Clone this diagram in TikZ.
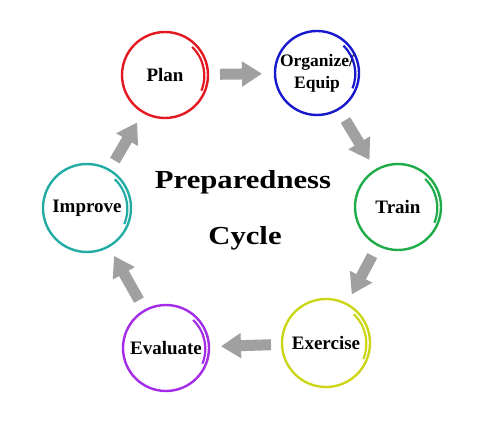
\documentclass[tikz,border=0pt]{standalone}
\usepackage{fontspec}
\setmainfont{Liberation Serif}
\newfontfamily\titlefont[FakeStretch=1.18]{Liberation Serif}
\usepackage{tikz}
\usetikzlibrary{positioning, arrows.meta}
\definecolor{planred}{RGB}{228,24,32}
\definecolor{orgblue}{RGB}{24,24,204}
\definecolor{traingreen}{RGB}{30,172,72}
\definecolor{exyellow}{RGB}{204,214,24}
\definecolor{evalpurple}{RGB}{164,44,232}
\definecolor{impteal}{RGB}{34,172,164}
\definecolor{arrowgray}{RGB}{160,160,160}
\tikzstyle{stage}=[circle, draw, line width=2.4pt, minimum size=86pt, inner sep=0pt, align=center, font=\fontsize{19}{22}\selectfont\bfseries]
\tikzstyle{brush}=[line width=2.2pt]
\tikzstyle{flow}=[draw=arrowgray, line width=11pt, -{Triangle[length=20pt,width=24pt]}, shorten <=55pt, shorten >=55pt]

\begin{document}
\begin{tikzpicture}[x=1pt, y=1pt]
                    \useasboundingbox (0,0) rectangle (500,426);
                    \node [stage, draw=planred] (plan) at (165,351) {Plan};
                    \node [stage, draw=orgblue, minimum size=84pt, font=\fontsize{17.5}{22}\selectfont\bfseries] (organize) at (317,353) {Organize/\\Equip};
                    \node [stage, draw=traingreen] (train) at (398,219) {Train};
                    \node [stage, draw=exyellow, minimum size=88pt] (exercise) at (326,83) {Exercise};
                    \node [stage, draw=evalpurple] (evaluate) at (166,78) {Evaluate};
                    \node [stage, draw=impteal, minimum size=88pt] (improve) at (87,218) {Improve};
                    % brush ends of the rings
                    \draw [brush, planred] (plan.center) ++(46:39pt) arc [start angle=46, end angle=-22, radius=40pt];
                    \draw [brush, orgblue] (organize.center) ++(46:38pt) arc [start angle=46, end angle=-22, radius=39pt];
                    \draw [brush, traingreen] (train.center) ++(46:39pt) arc [start angle=46, end angle=-22, radius=40pt];
                    \draw [brush, exyellow] (exercise.center) ++(46:40pt) arc [start angle=46, end angle=-22, radius=41pt];
                    \draw [brush, evalpurple] (evaluate.center) ++(46:39pt) arc [start angle=46, end angle=-22, radius=40pt];
                    \draw [brush, impteal] (improve.center) ++(46:40pt) arc [start angle=46, end angle=-22, radius=41pt];
                    % title
                    \node [font=\titlefont\fontsize{26}{30}\selectfont\bfseries] (title) at (243,244) {Preparedness};
                    \node [font=\titlefont\fontsize{26}{30}\selectfont\bfseries] (cycle) at (245,188) {Cycle};
                    % cycle arrows
                    \path [flow] (plan.center) -- (organize.center);
                    \path [flow] (organize.center) -- (train.center);
                    \path [flow] (train.center) -- (exercise.center);
                    \path [flow] (exercise.center) -- (evaluate.center);
                    \path [flow] (evaluate.center) -- (improve.center);
                    \path [flow] (improve.center) -- (plan.center);
                \end{tikzpicture}
\end{document}
